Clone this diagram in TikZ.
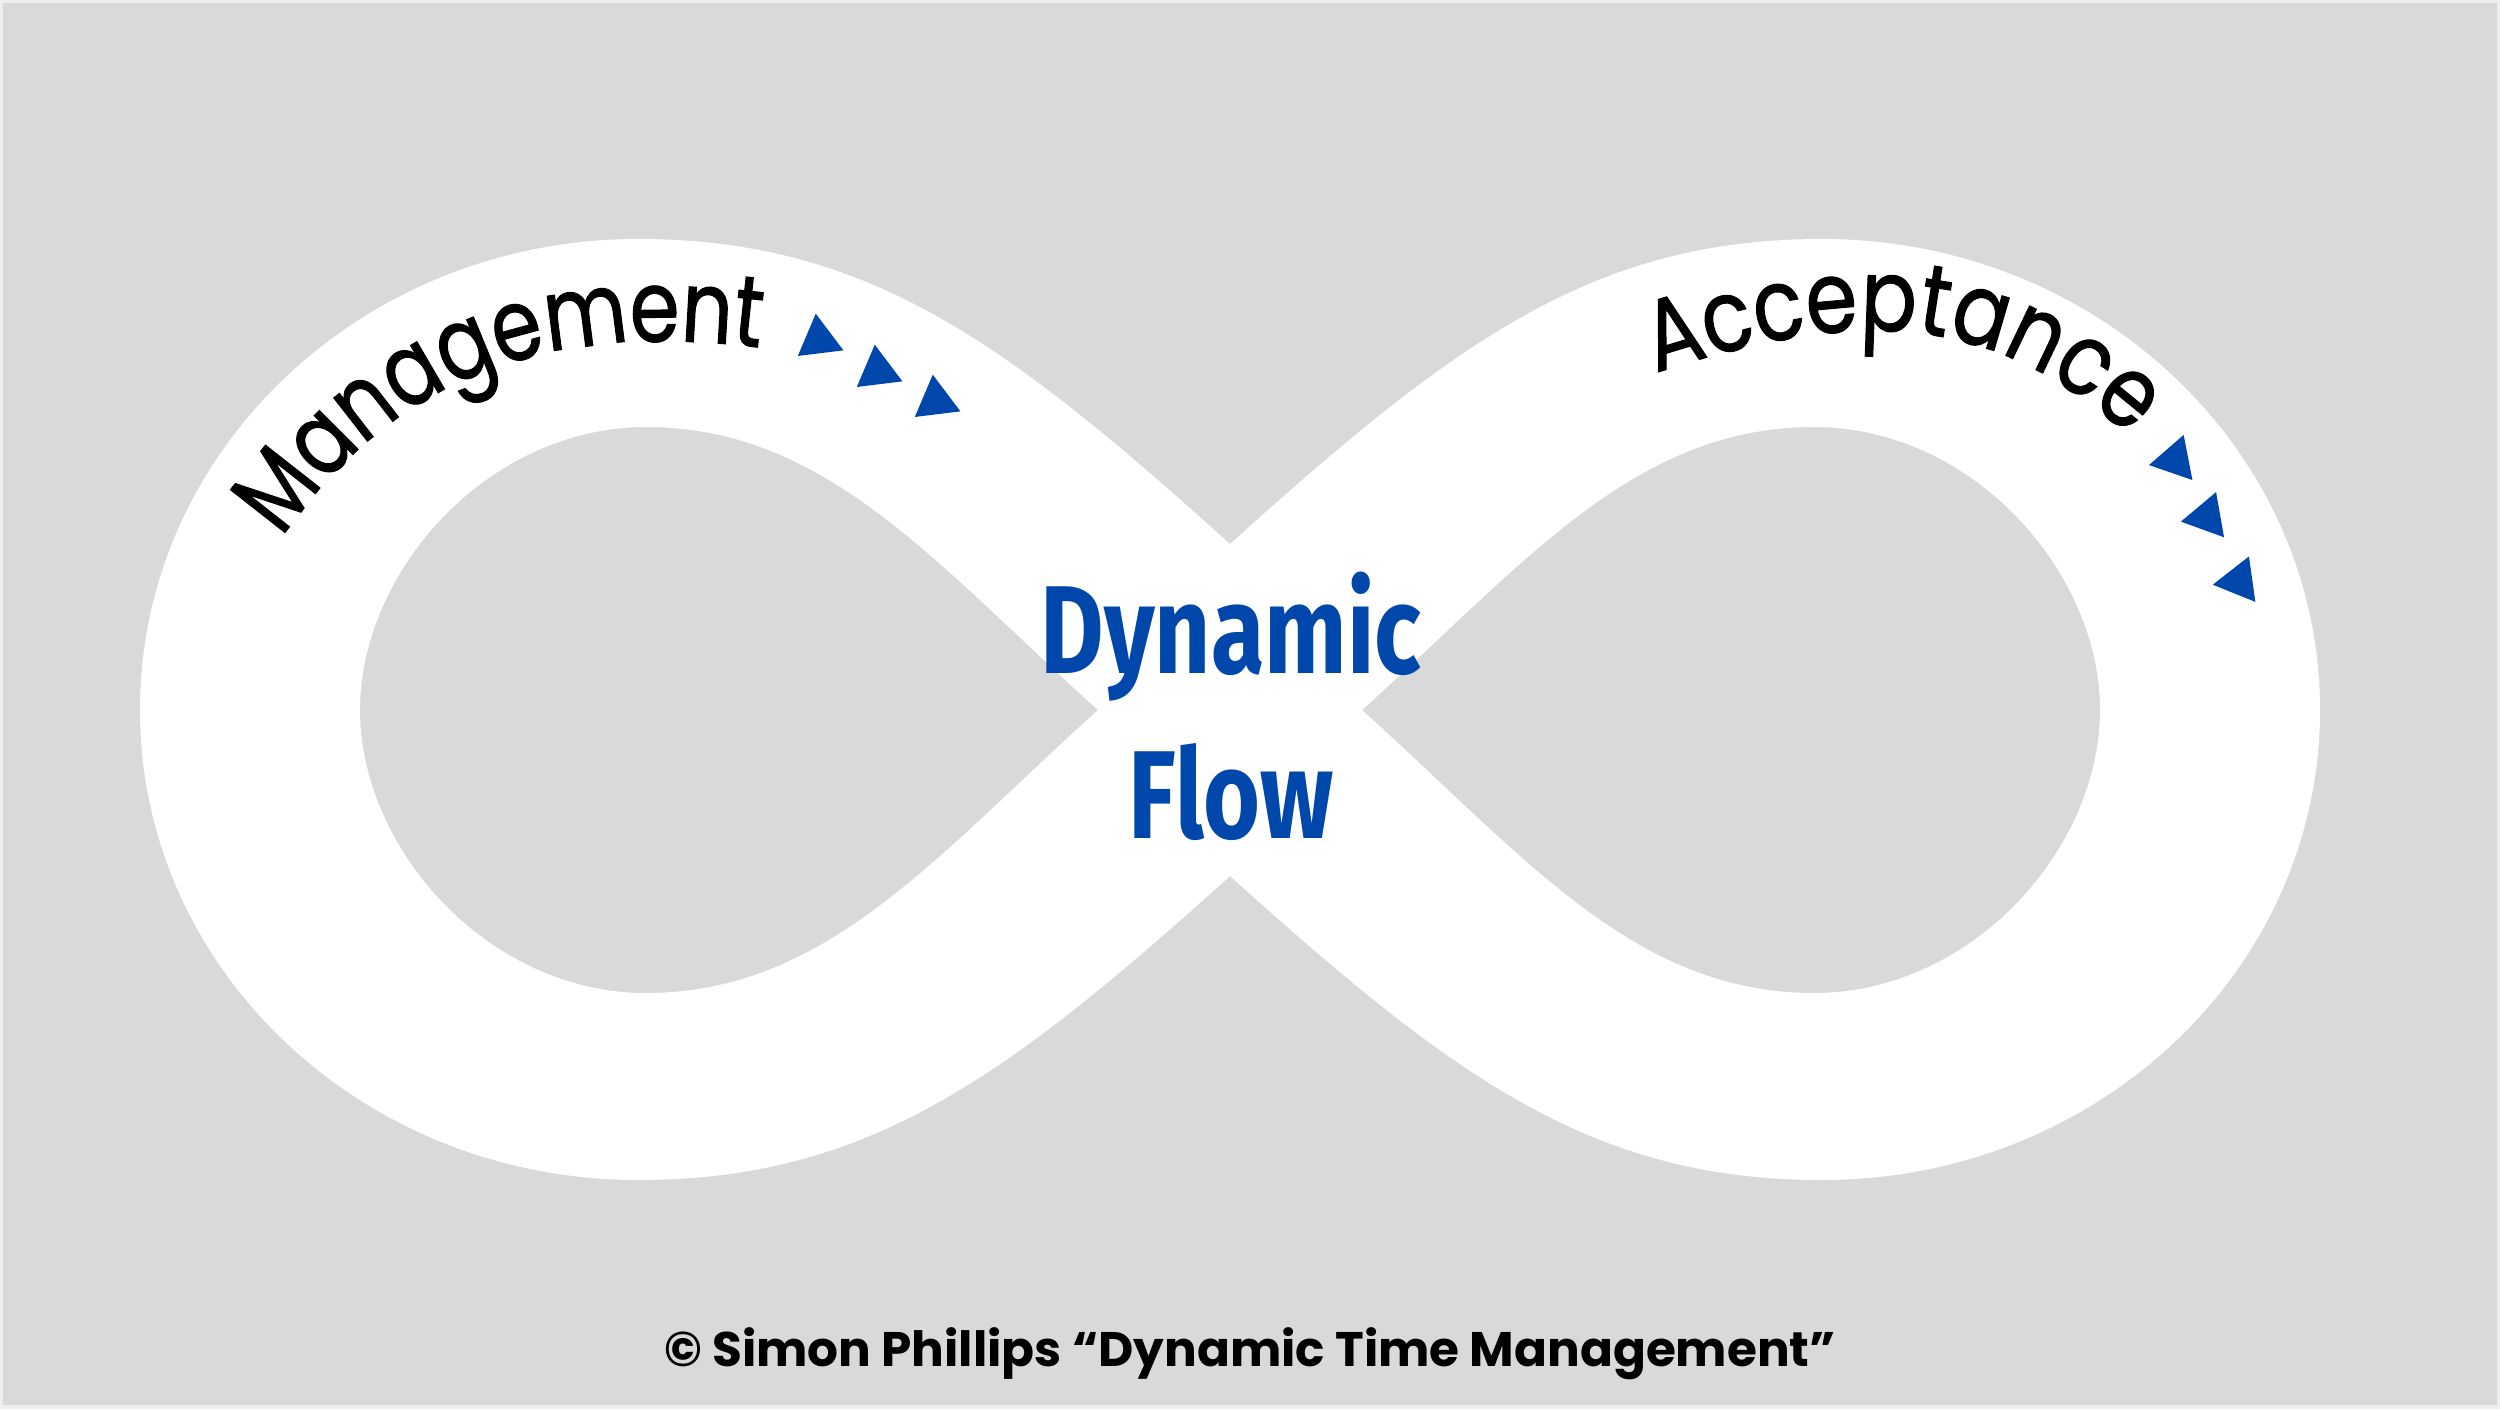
\documentclass[tikz,border=0pt]{standalone}
\usepackage{fontspec}
\usepackage{graphicx}
\setmainfont{Poppins}
\newfontfamily\popfont{Poppins}
\newfontfamily\popnarrow[FakeStretch=0.83,FakeBold=1]{Poppins}
\newfontfamily\popnarrower[FakeStretch=0.80,FakeBold=1]{Poppins}
\newfontfamily\firafont{Fira Sans}
\usetikzlibrary{decorations.text,shapes.geometric}
\definecolor{bggray}{HTML}{D9D9D9}
\definecolor{edgegray}{HTML}{EEEEEE}
\definecolor{dblue}{HTML}{0047AB}
\tikzset{
  tri/.style={regular polygon, regular polygon sides=3, fill=dblue, draw=none,
    minimum size=0.53cm, inner sep=0pt, outer sep=0pt},
  flowtext/.style={anchor=base, text=dblue, inner sep=0pt,
    font=\firafont\bfseries\fontsize{35.6pt}{40pt}\selectfont},
  foottext/.style={anchor=base, text=black, inner sep=0pt,
    font=\popfont\bfseries\fontsize{13.8pt}{17pt}\selectfont},
  band/.style={fill=white, even odd rule, draw=none}
}
\begin{document}
\begin{tikzpicture}[x=0.01cm, y=-0.01cm]
\useasboundingbox (0,0) rectangle (2500,1409);
\fill[edgegray] (0,0) rectangle (2500,1409);
\fill[bggray] (3,3) rectangle (2497,1405);

% infinity band
\fill[band]
  (1230,544) .. controls (1007,343) and (868,239) .. (638,239)
  .. controls (363,239) and (140,450) .. (140,710)
  .. controls (140,970) and (363,1180) .. (638,1180)
  .. controls (868,1180) and (1007,1077) .. (1230,876)
  .. controls (1453,1077) and (1592,1180) .. (1822,1180)
  .. controls (2097,1180) and (2320,970) .. (2320,710)
  .. controls (2320,450) and (2097,239) .. (1822,239)
  .. controls (1592,239) and (1453,343) .. (1230,544) -- cycle
  (1098,710) .. controls (935,563) and (826,427) .. (646,427)
  .. controls (488,427) and (360,571) .. (360,710)
  .. controls (360,849) and (488,993) .. (646,993)
  .. controls (826,993) and (935,857) .. (1098,710) -- cycle
  (1362,710) .. controls (1525,563) and (1634,427) .. (1814,427)
  .. controls (1972,427) and (2100,571) .. (2100,710)
  .. controls (2100,849) and (1972,993) .. (1814,993)
  .. controls (1634,993) and (1525,857) .. (1362,710) -- cycle;

% curved labels
\path[decorate, decoration={text along path, text align=left,
  text={|\popnarrower\fontsize{28.5pt}{32pt}\selectfont|Management}}]
  (282,538) .. controls (385,390) and (530,315) .. (778,350) -- (880,365);
\path[decorate, decoration={text along path, text align=left,
  text={|\popnarrow\fontsize{28.5pt}{32pt}\selectfont|Acceptance}}]
  (1656,373) .. controls (1865,305) and (2003,308) .. (2159,464) -- (2234,539);

% arrow triangles
\node[tri, rotate=7] (m1) at (819,340) {};
\node[tri, rotate=7] (m2) at (878,371) {};
\node[tri, rotate=7] (m3) at (936,401) {};
\node[tri, rotate=-19] (a1) at (2175,460) {};
\node[tri, rotate=-20] (a2) at (2207,517) {};
\node[tri, rotate=-22] (a3) at (2239,581) {};

% centre text
\node[flowtext] (dyn) at (1231,673) {\scalebox{0.78}[1]{Dynamic}};
\node[flowtext] (flow) at (1231,838) {\scalebox{0.78}[1]{Flow}};

% footer
\node[foottext] (foot) at (1250,1366) {© Simon Phillips “Dynamic Time Management”};
\end{tikzpicture}
\end{document}
